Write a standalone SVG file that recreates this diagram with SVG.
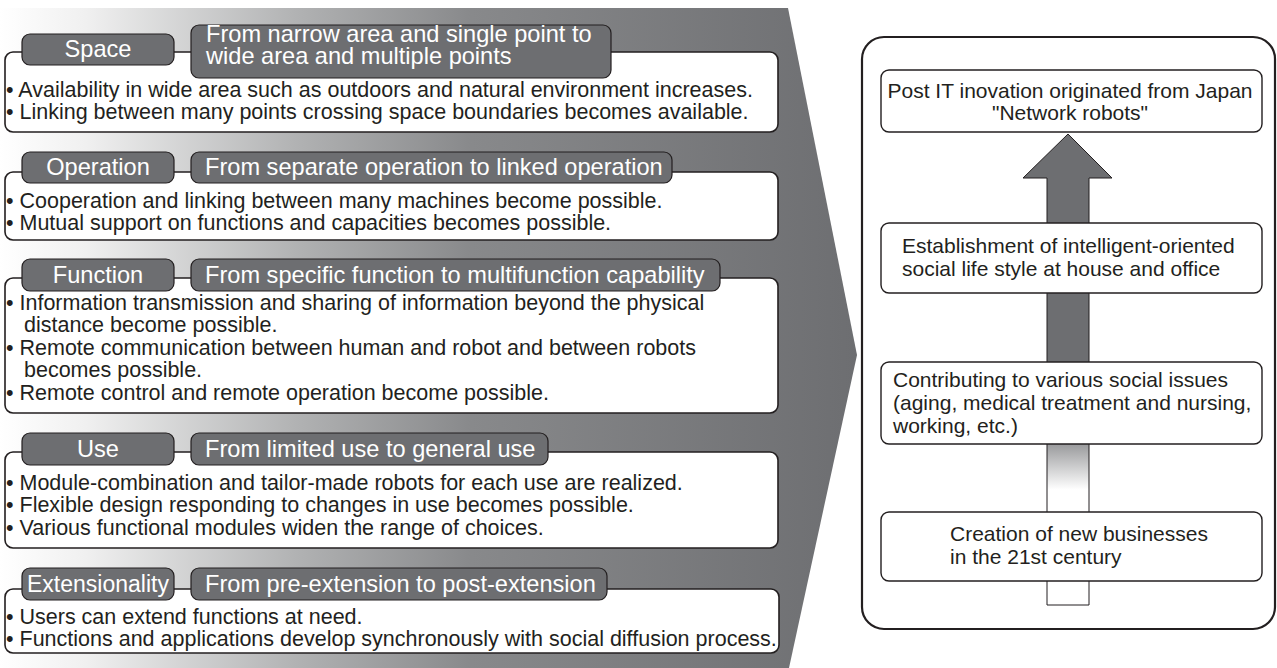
<svg xmlns="http://www.w3.org/2000/svg" width="1277" height="668" viewBox="0 0 1277 668">
<defs>
<linearGradient id="bg" gradientUnits="userSpaceOnUse" x1="0" y1="0" x2="858" y2="0">
<stop offset="0" stop-color="#ffffff"/>
<stop offset="0.1" stop-color="#f0f0f0"/>
<stop offset="0.35" stop-color="#b0b1b2"/>
<stop offset="0.55" stop-color="#88898b"/>
<stop offset="1" stop-color="#6d6e71"/>
</linearGradient>
<linearGradient id="shaft" gradientUnits="userSpaceOnUse" x1="0" y1="178" x2="0" y2="605">
<stop offset="0" stop-color="#6d6e71"/>
<stop offset="0.576" stop-color="#6d6e71"/>
<stop offset="0.73" stop-color="#ffffff"/>
<stop offset="1" stop-color="#ffffff"/>
</linearGradient>
<style>
.box{fill:#ffffff;stroke:#231f20;stroke-width:1.6}
.tab{fill:#6d6e71;stroke:#231f20;stroke-width:1.2}
.tt{font-family:"Liberation Sans",Arial,sans-serif;font-size:23.6px;fill:#ffffff}
.bt{font-family:"Liberation Sans",Arial,sans-serif;font-size:21.5px;fill:#231f20}
.rt{font-family:"Liberation Sans",Arial,sans-serif;font-size:21px;fill:#231f20}
.rbox{fill:#ffffff;stroke:#231f20;stroke-width:1.4}
</style>
</defs>
<path id="background" d="M0,8 L788,8 L857,355 L789,668 L0,668 Z" fill="url(#bg)"/>

<g id="space">
<rect class="box" x="5" y="52" width="773" height="80" rx="8"/>
<rect class="tab" x="22" y="34" width="152" height="31" rx="8"/>
<text class="tt" x="98" y="57" text-anchor="middle">Space</text>
<rect class="tab" x="191" y="25" width="420" height="53" rx="8"/>
<text class="tt" x="206" y="42">From narrow area and single point to</text>
<text class="tt" x="206" y="64">wide area and multiple points</text>
<text class="bt" x="6" y="97">• Availability in wide area such as outdoors and natural environment increases.</text>
<text class="bt" x="6" y="119">• Linking between many points crossing space boundaries becomes available.</text>
</g>

<g id="operation">
<rect class="box" x="5" y="172" width="773" height="68" rx="8"/>
<rect class="tab" x="22" y="152" width="152" height="31" rx="8"/>
<text class="tt" x="98" y="175" text-anchor="middle">Operation</text>
<rect class="tab" x="191" y="152" width="481" height="31" rx="8"/>
<text class="tt" x="205" y="175">From separate operation to linked operation</text>
<text class="bt" x="6" y="208">• Cooperation and linking between many machines become possible.</text>
<text class="bt" x="6" y="230">• Mutual support on functions and capacities becomes possible.</text>
</g>

<g id="function">
<rect class="box" x="5" y="278" width="773" height="135" rx="8"/>
<rect class="tab" x="22" y="259" width="152" height="32" rx="8"/>
<text class="tt" x="98" y="283" text-anchor="middle">Function</text>
<rect class="tab" x="191" y="259" width="529" height="32" rx="8"/>
<text class="tt" x="205" y="283">From specific function to multifunction capability</text>
<text class="bt" x="6" y="310">• Information transmission and sharing of information beyond the physical</text>
<text class="bt" x="24" y="332">distance become possible.</text>
<text class="bt" x="6" y="355">• Remote communication between human and robot and between robots</text>
<text class="bt" x="24" y="377">becomes possible.</text>
<text class="bt" x="6" y="400">• Remote control and remote operation become possible.</text>
</g>

<g id="use">
<rect class="box" x="5" y="452" width="773" height="96" rx="8"/>
<rect class="tab" x="22" y="433" width="152" height="32" rx="8"/>
<text class="tt" x="98" y="457" text-anchor="middle">Use</text>
<rect class="tab" x="191" y="433" width="357" height="32" rx="8"/>
<text class="tt" x="205" y="457">From limited use to general use</text>
<text class="bt" x="6" y="490">• Module-combination and tailor-made robots for each use are realized.</text>
<text class="bt" x="6" y="512">• Flexible design responding to changes in use becomes possible.</text>
<text class="bt" x="6" y="535">• Various functional modules widen the range of choices.</text>
</g>

<g id="extensionality">
<rect class="box" x="5" y="589" width="774" height="64" rx="8"/>
<rect class="tab" x="22" y="568" width="152" height="32" rx="8"/>
<text class="tt" x="98" y="592" text-anchor="middle" style="font-size:23px">Extensionality</text>
<rect class="tab" x="191" y="568" width="416" height="32" rx="8"/>
<text class="tt" x="205" y="592">From pre-extension to post-extension</text>
<text class="bt" x="6" y="624">• Users can extend functions at need.</text>
<text class="bt" x="6" y="646">• Functions and applications develop synchronously with social diffusion process.</text>
</g>

<g id="panel">
<rect x="862" y="37" width="413" height="592" rx="22" fill="#ffffff" stroke="#231f20" stroke-width="2.2"/>
</g>

<g id="connectors">
<path d="M1047,605 L1047,178 L1023,178 L1068,134 L1112,178 L1089,178 L1089,605 Z" fill="url(#shaft)" stroke="#231f20" stroke-width="1"/>
</g>

<g id="post-it">
<rect class="rbox" x="881" y="70" width="381" height="62" rx="8"/>
<text class="rt" x="1070" y="98" text-anchor="middle">Post IT inovation originated from Japan</text>
<text class="rt" x="1070" y="120" text-anchor="middle">"Network robots"</text>
</g>

<g id="establishment">
<rect class="rbox" x="881" y="223" width="381" height="70" rx="8"/>
<text class="rt" x="902" y="253">Establishment of intelligent-oriented</text>
<text class="rt" x="902" y="276">social life style at house and office</text>
</g>

<g id="contributing">
<rect class="rbox" x="881" y="362" width="381" height="82" rx="8"/>
<text class="rt" x="893" y="387">Contributing to various social issues</text>
<text class="rt" x="893" y="410">(aging, medical treatment and nursing,</text>
<text class="rt" x="893" y="433"> working, etc.)</text>
</g>

<g id="creation">
<rect class="rbox" x="881" y="512" width="381" height="69" rx="8"/>
<text class="rt" x="950" y="541">Creation of new businesses</text>
<text class="rt" x="950" y="564">in the 21st century</text>
</g>
</svg>
